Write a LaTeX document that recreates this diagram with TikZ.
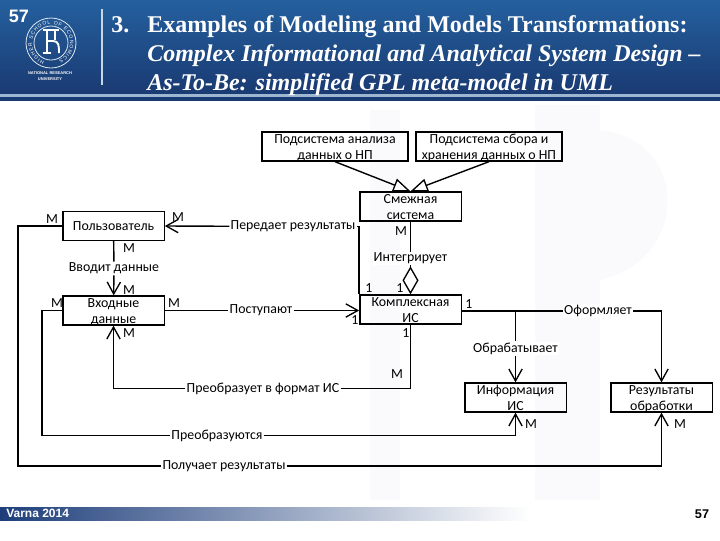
\documentclass[tikz,border=0pt]{standalone}
\usepackage{fontspec}
\setmainfont{Carlito}
\newfontfamily\titlefont[Ligatures=TeX]{Liberation Serif}
\newfontfamily\footfont{Liberation Sans}
\usetikzlibrary{arrows.meta,decorations.text}
\definecolor{hdrtop}{RGB}{36,96,158}
\definecolor{hdrbot}{RGB}{26,58,114}
\definecolor{footblue}{RGB}{30,62,122}
\definecolor{wmark}{RGB}{250,250,252}
\newcommand{\twolines}[2]{\rule{0pt}{8.25pt}#1\\\smash{#2}\rule[-1.5pt]{0pt}{1.5pt}}
\tikzset{
	umlbox/.style={draw,line width=1pt,minimum width=76pt,minimum height=21.75pt,inner sep=0pt,align=center,font=\fontsize{10.4}{12}\selectfont},
	wirelabel/.style={inner sep=0.75pt,fill=white,font=\fontsize{10.4}{11}\selectfont},
	mult/.style={inner sep=0pt,font=\fontsize{10.4}{11}\selectfont},
	wire/.style={line width=1.05pt},
	arrowwire/.style={wire,-{Straight Barb[length=9pt,width=10pt,line width=1pt]}},
	trianglewire/.style={wire,-{Triangle[open,fill=white,length=13pt,width=10pt,line width=1pt]}},
	titleline/.style={anchor=base west,inner sep=0pt,text=white,font=\titlefont\bfseries\fontsize{18}{18}\selectfont},
	logostroke/.style={white,line width=1.4pt}
}
\begin{document}
\begin{tikzpicture}[x=0.75pt,y=0.75pt,yscale=-1,xscale=1]
	\useasboundingbox (0,0) rectangle (720,540);
	% header
	\shade[top color=hdrtop,bottom color=hdrbot] (0,0) rectangle (720,94);
	\fill[hdrtop!45!white] (0,94) rectangle (720,96.5);
	\fill[hdrbot] (0,96.5) rectangle (720,100.5);
	\draw[white!75!hdrtop,line width=1pt] (102,9) -- (102,85);
	% watermark
	\fill[wmark] (535,105) rectangle (600,500);
	\fill[wmark] (600,130) .. controls (690,140) and (690,260) .. (600,280) -- cycle;
	\fill[wmark] (370,110) rectangle (400,500);
	% logo
	\node (pagetop) [inner sep=0pt,text=white,font=\footfont\bfseries\fontsize{13.5}{14}\selectfont] at (19,16) {57};
	\draw[white!85!hdrtop,line width=0.6pt] (51,43) circle (25) (51,43) circle (17);
	\path[decorate,decoration={text along path,text color=white,text align={fit to path},
		text={|\footfont\fontsize{3.8}{4}\selectfont|HIGHER SCHOOL OF ECONOMICS}}]
		(44.5,61) arc[start angle=110,end angle=425,radius=19];
	\draw[logostroke] (43,30) -- (59,30) (47,30) -- (47,53) (43,53) -- (51,53) (55,30) -- (55,40);
	\draw[logostroke] (47,41) -- (53,41) .. controls (59,41) and (59,46) .. (59,53);
	\node (logotext) [inner sep=0pt,align=center,text=white,font=\footfont\bfseries\fontsize{3}{5}\selectfont] at (50,76) {NATIONAL RESEARCH\\UNIVERSITY};
	% title
	\node (titlenum) [titleline] at (111,32) {3.};
	\node (titleone) [titleline] at (147,32) {Examples of Modeling and Models Transformations:};
	\node (titletwo) [titleline] at (147,61) {\itshape Complex Informational and Analytical System Design –};
	\node (titlethree) [titleline] at (147,90) {\itshape As-To-Be: simplified GPL meta-model in UML};
	% footer
	\shade[left color=footblue,right color=white] (0,507) rectangle (530,520);
	\node (footer) [anchor=west,inner sep=0pt,text=white,font=\footfont\bfseries\fontsize{9}{9}\selectfont] at (6,513) {Varna 2014};
	\node (pagenum) [inner sep=0pt,font=\footfont\bfseries\fontsize{9.5}{10}\selectfont] at (702,514.5) {57};
	% boxes
	\node (analiz) [umlbox,minimum width=109.5pt] at (335,146.5) {\twolines{Подсистема анализа}{данных о НП}};
	\node (sbor) [umlbox,minimum width=109.5pt] at (489,146.5) {\twolines{Подсистема сбора и}{хранения данных о НП}};
	\node (smezh) [umlbox] at (410.5,206.5) {\twolines{Смежная}{система}};
	\node (polz) [umlbox] at (113.5,226) {Пользователь};
	\node (vhod) [umlbox] at (113.5,310.5) {\twolines{Входные}{данные}};
	\node (kompl) [umlbox] at (410.5,309.5) {\twolines{Комплексная}{ИС}};
	\node (info) [umlbox] at (515.5,397.5) {\twolines{Информация}{ИС}};
	\node (rez) [umlbox] at (661.5,397.5) {\twolines{Результаты}{обработки}};
	% labels on the wires
	\node (peredaet) [wirelabel] at (293,226.5) {Передает результаты};
	\node (vvodit) [wirelabel] at (114,268.5) {Вводит данные};
	\node (integr) [wirelabel] at (410.5,258.5) {Интегрирует};
	\node (postup) [wirelabel] at (261,310.5) {Поступают};
	\node (oform) [wirelabel] at (598,311) {Оформляет};
	\node (obrab) [wirelabel] at (515.5,348.5) {Обрабатывает};
	\node (preobr) [wirelabel] at (263,388.5) {Преобразует в формат ИС};
	\node (preobrs) [wirelabel] at (217,435.5) {Преобразуются};
	\node (poluch) [wirelabel] at (224,466) {Получает результаты};
	% connectors
	\draw[trianglewire] (analiz.south) -- (smezh.north);
	\draw[trianglewire] (sbor.south) -- (smezh.north);
	\draw[wire] (kompl.north west) |- (peredaet.east);
	\draw[arrowwire] (peredaet) -- (polz.east);
	\draw[wire] (smezh) -- (integr);
	\draw[wire,-{Diamond[open,fill=white,length=21pt,width=12pt,line width=1pt]}] (integr) -- (kompl);
	\draw[wire] (polz) -- (vvodit);
	\draw[arrowwire] (vvodit) -- (vhod);
	\draw[wire] (vhod) -- (postup);
	\draw[arrowwire] (postup) -- (postup -| kompl.west);
	\draw[wire] (kompl.east |- oform) -- (oform);
	\draw[arrowwire] (oform) -| (rez);
	\coordinate (branch) at (obrab |- oform);
	\draw[wire] (branch) -- (obrab);
	\draw[arrowwire] (obrab) -- (info);
	\draw[wire] (kompl) |- (preobr);
	\draw[arrowwire] (preobr) -| (vhod);
	\coordinate (bendvhod) at (42,435.5);
	\draw[wire] (vhod) -| (bendvhod) -- (preobrs);
	\draw[arrowwire] (preobrs) -| (info);
	\coordinate (bendpolz) at (18,466);
	\draw[wire] (polz) -| (bendpolz) -- (poluch);
	\draw[arrowwire] (poluch) -| (rez);
	% multiplicities
	\node (m1) [mult] at (52,219) {M};
	\node (m2) [mult] at (178,217) {M};
	\node (m3) [mult] at (129,248) {M};
	\node (m4) [mult] at (129,290) {M};
	\node (m5) [mult] at (57,303) {M};
	\node (m6) [mult] at (174,303) {M};
	\node (m7) [mult] at (129,333) {M};
	\node (m8) [mult] at (401,231) {M};
	\node (m9) [mult] at (397,374) {M};
	\node (m10) [mult] at (531,424) {M};
	\node (m11) [mult] at (680,424) {M};
	\node (one1) [mult] at (369,288) {1};
	\node (one2) [mult] at (400,288) {1};
	\node (one3) [mult] at (355,320) {1};
	\node (one4) [mult] at (406,333) {1};
	\node (one5) [mult] at (469,304) {1};
\end{tikzpicture}
\end{document}
